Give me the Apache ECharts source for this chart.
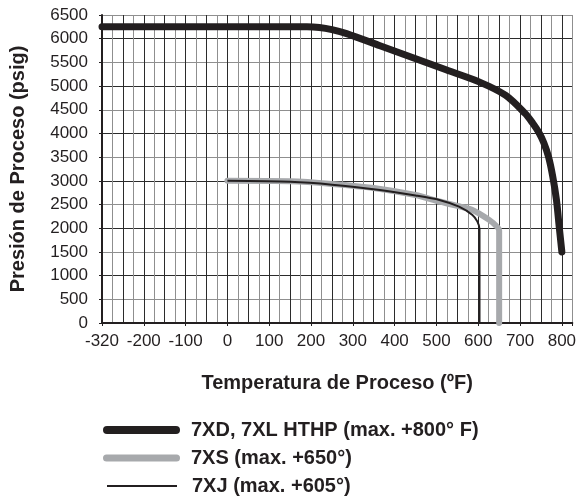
<!DOCTYPE html>
<html>
<head>
<meta charset="utf-8">
<script src="https://cdn.jsdelivr.net/npm/echarts@6/dist/echarts.min.js"></script>
<style>
  html, body { margin: 0; padding: 0; background: #fff; }
  #chart { width: 579px; height: 499px; }
</style>
</head>
<body>
<div id="chart"></div>
<script>
// series names (legend text)
const nameXD = '7XD, 7XL HTHP (max. +800° F)'
const nameXS = '7XS (max. +650°)'
const nameXJ = '7XJ (max. +605°)'

// [temperatura ºF, presión psig]
// the left edge is labelled -320 but sits one tick step left of -200, so it is plotted at -300
const dataXD = [
  [-300, 6250], [100, 6250], [190, 6250], [220, 6235], [250, 6190], [285, 6108],
  [365, 5851], [444, 5597], [523, 5343], [602, 5089], [665, 4808], [712, 4423],
  [730, 4220], [745, 4020], [757, 3800], [768, 3509], [778, 3100], [787, 2600],
  [794, 2000], [800, 1500]
]
const dataXS = [
  [0, 3000], [150, 2990], [250, 2935], [350, 2850], [450, 2700], [507, 2565],
  [550, 2470], [586, 2386], [626, 2176], [645, 2030], [650, 1950], [650, 0]
]
const dataXJ = [
  [0, 3000], [150, 2980], [250, 2920], [365, 2805], [450, 2690], [507, 2597],
  [554, 2456], [586, 2281], [598, 2140], [603, 1980], [603, 0]
]

// tick labels
const xMin = -300
const xMax = 825
const xFirstLabel = '-320'
const yMin = 0
const yMax = 6500

const font = "'Liberation Sans', Arial, sans-serif"
const ink = '#231f20'
const grey = '#a7a9ac'

const chart = echarts.init(document.getElementById('chart'))

function legendItem(name, top, left, width, height, icon, gap) {
  return {
    data: [name],
    orient: 'vertical',
    left: left,
    top: top,
    itemWidth: width,
    itemHeight: height,
    icon: icon,
    selectedMode: false,
    textStyle: {
      fontFamily: font,
      fontSize: 20,
      fontWeight: 'bold',
      color: ink,
      lineHeight: 20,
      padding: [0, 0, 0, gap]
    }
  }
}

chart.setOption({
  animation: false,
  backgroundColor: '#fff',
  grid: { left: 100, right: 5, top: 15, bottom: 176 },
  legend: [
    legendItem(nameXD, 415, 98, 77, 8, 'path://M4,0 L73,0 A4,4 0 0 1 73,8 L4,8 A4,4 0 0 1 4,0 Z', 6),
    legendItem(nameXS, 443, 98, 77, 7, 'path://M3.5,0 L73.5,0 A3.5,3.5 0 0 1 73.5,7 L3.5,7 A3.5,3.5 0 0 1 3.5,0 Z', 6),
    legendItem(nameXJ, 471, 102, 70, 2, 'rect', 10)
  ],
  xAxis: [
    {
      type: 'value',
      min: xMin,
      max: xMax,
      interval: 100,
      name: 'Temperatura de Proceso (ºF)',
      nameLocation: 'middle',
      nameGap: 50,
      nameTextStyle: { fontFamily: font, fontSize: 20, fontWeight: 'bold', color: ink },
      axisLine: { show: true, onZero: false, lineStyle: { color: ink, width: 2 } },
      axisTick: { show: true, length: 3, lineStyle: { color: ink } },
      axisLabel: {
        fontFamily: font,
        fontSize: 17,
        color: ink,
        margin: 10,
        formatter: function (v) {
          if (v === xMin) return xFirstLabel
          if (v % 100 !== 0) return ''
          return String(v)
        }
      },
      splitLine: { show: false }
    },
    {
      // grid-only axis: a line every 25 ºF, alternating dark / grey
      type: 'value',
      min: xMin,
      max: xMax,
      interval: 25,
      position: 'bottom',
      axisLine: { show: false },
      axisTick: { show: false },
      axisLabel: { show: false },
      splitLine: { show: true, lineStyle: { color: ['#2b2b2b', '#8f8f8f'], width: 1 } }
    }
  ],
  yAxis: {
    type: 'value',
    min: yMin,
    max: yMax,
    interval: 500,
    name: 'Presión de Proceso (psig)',
    nameLocation: 'middle',
    nameGap: 74,
    nameTextStyle: { fontFamily: font, fontSize: 20, fontWeight: 'bold', color: ink },
    axisLine: { show: true, onZero: false, lineStyle: { color: ink, width: 2 } },
    axisTick: { show: true, length: 3, lineStyle: { color: ink } },
    axisLabel: {
      fontFamily: font,
      fontSize: 17,
      color: ink,
      margin: 14,
      formatter: function (v) { return String(v) }
    },
    splitLine: { show: true, lineStyle: { color: ['#2b2b2b', '#8f8f8f'], width: 1 } }
  },
  series: [
    {
      name: nameXD,
      type: 'line',
      data: dataXD,
      smooth: 0.3,
      showSymbol: false,
      color: ink,
      lineStyle: { color: ink, width: 7, cap: 'round', join: 'round' },
      z: 3
    },
    {
      name: nameXS,
      type: 'line',
      data: dataXS,
      smooth: 0.25,
      showSymbol: false,
      color: grey,
      lineStyle: { color: grey, width: 6, cap: 'round', join: 'round' },
      z: 4
    },
    {
      name: nameXJ,
      type: 'line',
      data: dataXJ,
      smooth: 0.25,
      showSymbol: false,
      color: ink,
      lineStyle: { color: ink, width: 2, cap: 'butt', join: 'round' },
      z: 5
    }
  ]
})
</script>
</body>
</html>
